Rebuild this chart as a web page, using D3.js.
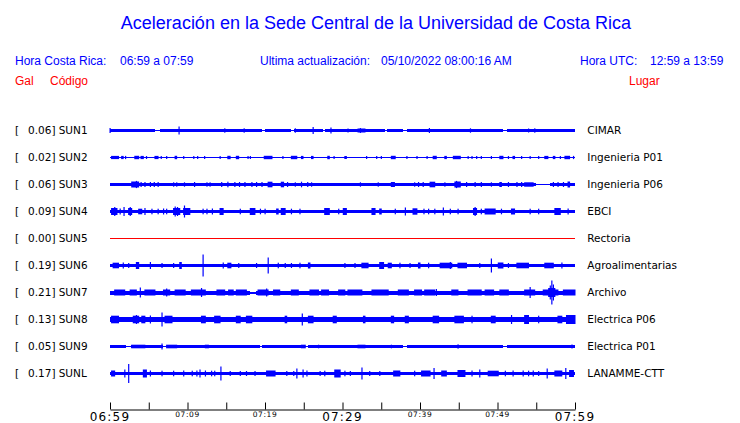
<!DOCTYPE html>
<html><head><meta charset="utf-8">
<script src="https://cdn.jsdelivr.net/npm/d3@7"></script>
<style>
html,body{margin:0;padding:0;background:#fff;}
svg{display:block;}
</style></head>
<body>
<svg id="c" width="740" height="423"></svg>
<script>
// ---------- data ----------
const title = "Aceleración en la Sede Central de la Universidad de Costa Rica";
const codes  = ["SUN1","SUN2","SUN3","SUN4","SUN5","SUN6","SUN7","SUN8","SUN9","SUNL"];
const places = ["CIMAR","Ingenieria P01","Ingenieria P06","EBCI","Rectoria","Agroalimentarias","Archivo","Electrica P06","Electrica P01","LANAMME-CTT"];
const peaks  = ["0.06","0.02","0.06","0.09","0.00","0.19","0.21","0.13","0.05","0.17"];
// background noise level of each trace (relative units)
const baseLevel = [1.6, 0.5, 1.6, 1.7, 0, 1.7, 2.0, 2.8, 1.3, 1.7];
// quieter stretches [startMin, endMin, level]
const quiet = [
  [[5.8,6.5,0.8],[19.6,20.0,0.8],[23.4,23.8,0.8],[27.5,27.8,0.8],[35.5,35.8,0.8],[37.8,38.3,0.9],[50.7,51.2,0.9]],
  [],
  [[55.0,56.8,0.6]],
  [],
  [],
  [],
  [[18.1,18.9,1.0]],
  [],
  [[2.0,2.7,0.8],[6.9,7.3,0.8],[19.4,19.6,0.8],[25.2,25.6,0.8],[37.8,38.3,0.8],[50.7,51.2,0.8]],
  []
];
// bursts / spikes [startMin, endMin, level]
const SUN1 = [[0,0,2.5],[8.9,8.9,4],[14.8,14.8,2.2],[17.3,17.3,2.2],[23.9,23.9,2.2],[26.2,26.2,3.5],[28.5,28.5,3],[30.7,30.7,2],[32.0,32.9,2],[32.3,32.3,2.4],[41.2,41.2,2.5],[46.5,46.5,2.2],[54.0,54.0,2],[54.8,54.8,2.2]];
const SUN2 = [[0.2,1.1,1.6],[1.5,1.7,1.6],[2.0,2.0,1.6],[3.2,3.7,1.7],[4.0,4.3,1.6],[4.7,4.7,1.5],[5.8,6.2,1.6],[6.6,6.6,1.5],[7.3,7.3,1.5],[8.4,8.6,1.7],[9.5,9.5,1.5],[10.8,10.8,1.5],[11.3,11.3,1.5],[12.2,12.2,1.5],[14.2,14.2,1.5],[15.2,15.5,1.7],[16.3,16.6,1.7],[17.8,17.8,1.5],[18.1,18.1,1.5],[19.9,20.9,1.7],[22.3,22.3,1.5],[23.4,24.1,1.7],[24.7,24.9,1.6],[26.0,26.2,1.6],[28.1,28.3,1.7],[28.9,28.9,1.5],[30.3,30.5,1.5],[33.1,33.1,1.5],[34.4,34.4,1.5],[35.0,35.0,1.5],[36.3,36.8,1.7],[38.3,38.3,1.5],[39.6,39.6,1.5],[40.9,40.9,1.5],[41.7,42.1,1.7],[43.2,43.4,1.6],[44.3,45.2,1.7],[46.2,46.2,1.5],[46.7,46.7,1.5],[47.3,47.3,1.5],[47.9,47.9,1.5],[49.2,49.2,1.5],[50.3,50.7,1.7],[51.4,51.4,1.5],[52.0,52.2,1.6],[53.1,53.1,1.5],[54.2,54.2,1.5],[55.3,55.3,1.5],[56.1,56.5,1.6],[57.2,57.4,1.6],[58.1,58.1,1.5],[58.7,59.3,1.7],[59.8,59.8,1.6]];
const SUN3 = [[2.8,3.7,3],[3.4,3.4,3.6],[4.0,4.0,2.5],[4.5,4.5,2.5],[5.2,5.2,2.5],[5.7,5.7,2.5],[6.2,6.2,2.5],[8.2,8.2,2.2],[8.6,8.6,2.2],[9.6,9.6,2.2],[10.9,10.9,2.5],[12.5,12.5,2.2],[12.9,12.9,2.2],[14.4,14.4,2.5],[15.2,15.2,2.8],[16.1,16.1,2.5],[16.7,16.7,2.5],[17.4,17.4,2.5],[18.3,18.3,2.5],[18.9,18.9,2.5],[19.6,19.6,2.5],[20.4,20.9,2.8],[22.1,22.4,2.8],[22.9,22.9,2.5],[23.9,23.9,2.2],[24.7,24.7,2.8],[25.5,25.5,2.5],[26.0,26.0,2.2],[32.3,32.3,2.2],[34.6,34.6,2.2],[36.3,36.7,2.5],[39.3,39.3,2.2],[39.8,39.8,2.5],[40.4,40.4,2.5],[41.3,41.9,2.8],[43.2,43.2,2.2],[44.5,45.2,3],[44.7,44.7,3.6],[46.0,46.0,2.5],[47.1,47.1,2.5],[47.9,47.9,2.5],[49.2,49.2,2.2],[50.3,50.5,2.5],[51.4,51.4,2.5],[52.5,52.5,2.5],[53.1,53.1,2.5],[53.5,54.6,2.2],[57.2,57.2,2.5],[57.8,57.8,2.5],[58.5,58.5,2.5],[59.1,59.3,3]];
const SUN4 = [[0.2,0.9,3.5],[0.6,0.6,4.5],[1.3,1.3,3],[1.8,1.8,4.5],[2.4,2.8,3.5],[2.6,2.6,4.5],[3.7,4.1,2.8],[4.5,4.5,3.5],[5.4,5.4,2.8],[6.2,6.2,2.8],[6.9,6.9,3],[7.3,7.3,2.8],[8.2,9.0,3.5],[8.4,8.4,5],[8.7,8.7,4.5],[9.5,10.3,3.5],[9.6,9.6,6],[12.0,12.0,2.8],[12.5,12.5,2.8],[13.2,13.2,3],[14.2,14.6,3.5],[16.8,16.8,2.8],[18.1,18.7,3.5],[19.4,19.4,2.8],[20.0,20.0,2.8],[21.5,21.7,3],[22.1,22.6,3.5],[23.4,23.4,2.8],[24.5,24.5,2.8],[27.7,28.3,3.5],[29.5,29.5,2.8],[30.1,30.5,3.5],[33.8,34.2,3.5],[34.8,35.0,3],[36.8,36.8,2.8],[38.1,38.1,4],[39.1,39.6,3.2],[40.5,40.5,2.8],[41.1,41.1,2.8],[41.9,41.9,2.8],[43.0,43.0,4],[43.9,43.9,2.8],[44.9,44.9,2.8],[46.9,47.3,3.5],[47.1,47.1,4.5],[47.9,47.9,2.8],[48.4,49.7,3],[50.5,50.5,2.8],[51.8,52.2,3],[54.2,54.2,2.8],[55.3,55.3,2.8],[57.4,58.1,3.5],[59.1,59.1,3]];
const SUN5 = [];
const SUN6 = [[0.4,1.1,2.8],[1.7,1.7,3],[2.4,2.4,2.5],[3.4,3.7,3.5],[5.2,5.2,3.5],[6.7,6.7,2.5],[8.2,8.2,2.5],[9.0,9.2,3.5],[12.0,12.0,11],[14.6,14.6,3],[15.2,15.6,2.8],[16.6,16.6,2.5],[18.9,18.9,2.5],[20.4,20.4,8],[21.7,21.7,2.8],[22.6,22.6,2.5],[23.4,23.4,2.5],[24.5,24.5,2.8],[25.6,25.8,3],[30.3,30.3,2.5],[31.6,31.6,2.5],[32.5,33.3,2.8],[34.8,35.3,3.5],[35.9,36.3,2.8],[37.4,37.4,2.8],[38.7,38.7,2.5],[39.8,40.0,3],[41.1,41.1,2.8],[42.6,44.1,2.8],[43.9,43.9,3.5],[44.9,46.0,2.8],[47.7,47.7,2.5],[49.2,49.2,7],[50.1,50.7,3],[51.4,51.4,2.5],[52.5,54.0,2.8],[56.1,57.2,2.8],[58.3,58.3,3]];
const SUN7 = [[0.6,1.9,3],[2.6,3.4,3],[3.9,3.9,5],[4.5,5.8,3],[6.9,7.7,3],[7.3,7.3,4],[8.4,9.7,3],[10.5,12.3,3],[11.8,11.8,4.5],[13.8,14.8,3],[15.3,15.9,3],[16.3,17.6,3],[19.1,20.4,3],[20.2,20.2,4],[21.1,21.9,3],[23.4,24.3,3],[25.8,26.9,3],[27.3,28.2,3],[29.5,30.3,3],[30.7,32.5,3],[33.8,35.9,3],[37.2,38.5,3],[39.3,40.2,3],[40.6,41.9,3],[42.1,42.1,3.5],[44.1,44.9,3],[46.2,47.9,3],[48.4,49.5,3],[50.3,51.4,3],[53.5,54.8,3],[54.2,54.2,5.5],[55.9,57.8,3],[56.6,57.4,4.5],[56.8,56.8,7],[57.0,57.0,12],[57.2,57.2,8],[58.5,60,3]];
const SUN8 = [[0.2,1.1,3.8],[3.0,3.7,3.8],[3.4,3.4,4.5],[4.1,4.5,3.8],[5.2,5.2,4],[6.7,6.7,7],[7.1,8.0,3.8],[11.8,12.3,3.8],[13.5,14.2,3.8],[16.3,16.8,3.8],[17.6,18.3,3.8],[22.6,22.8,3.8],[24.8,24.8,6],[25.6,26.2,3.8],[28.8,29.2,3.8],[32.7,32.9,3.8],[36.3,36.6,3.8],[38.1,38.5,3.8],[41.7,42.4,3.8],[44.5,45.6,3.8],[46.7,46.7,3.8],[49.2,49.7,3.8],[51.8,51.8,4.5],[53.5,54.0,4.5],[55.3,55.3,3.8],[57.8,58.3,3.8],[58.9,60,4.5]];
const SUN9 = [[2.8,4.5,1.8],[6.7,6.7,3],[7.3,8.6,1.8],[12.3,12.7,1.8],[24.7,25.2,1.8],[26.9,26.9,1.8],[32.0,32.9,1.8],[36.3,36.3,1.8],[44.9,44.9,2.2],[59.6,59.6,2]];
const SUNL = [[0.2,0.6,3],[1.9,1.9,4],[2.4,2.4,9.5],[4.3,4.7,4],[5.2,5.2,3],[6.7,6.7,2.8],[8.2,8.2,2.8],[9.5,9.5,3],[10.6,10.6,2.8],[11.2,11.2,3],[11.6,11.6,4],[12.3,12.3,3],[13.1,13.1,2.8],[13.5,13.5,2.8],[14.3,14.3,7],[15.5,15.5,2.5],[16.8,16.8,2.5],[17.6,17.6,2.5],[18.7,18.7,2.5],[20.2,21.3,3],[22.8,22.8,2.5],[23.7,23.7,2.5],[24.1,24.1,5],[24.9,24.9,4],[25.4,25.4,3],[27.1,27.1,2.5],[27.7,27.7,2.8],[29.0,29.7,4],[30.3,30.3,2.8],[31.0,31.0,2.5],[32.5,32.5,6],[33.5,33.5,2.5],[34.8,34.8,2.5],[36.6,37.4,3],[39.3,39.3,2.8],[40.2,41.3,3],[41.8,41.8,5.5],[42.8,43.4,3],[44.9,45.8,3.5],[46.7,46.7,3],[47.7,47.7,4],[48.8,50.1,2.8],[51.0,51.0,2.8],[52.0,52.0,3],[53.3,53.3,3],[54.0,54.0,2.8],[54.6,54.6,3],[55.3,55.3,2.5],[56.4,56.4,5],[57.4,58.3,3],[58.8,58.8,5.5],[59.3,59.8,3.5]];
const bursts = [SUN1,SUN2,SUN3,SUN4,SUN5,SUN6,SUN7,SUN8,SUN9,SUNL];
// time axis (minutes after 06:59)
const tickMinutes = [0,5,10,15,20,25,30,35,40,45,50,55,60];
const bigLabels   = [[0,"06:59"],[30,"07:29"],[60,"07:59"]];
const smallLabels = [[10,"07:09"],[20,"07:19"],[40,"07:39"],[50,"07:49"]];

// ---------- drawing ----------
const svg = d3.select("#c");
const BLUE = "#0000ff", RED = "#ff0000";
const sans = "'Liberation Sans', Arial, Helvetica, sans-serif";
const dj = "'DejaVu Sans', sans-serif";

const x = d3.scaleLinear().domain([0,60]).range([110,575]);
const y = d3.scalePoint().domain(codes).range([130.5,373.5]);
const amp = d3.scaleLinear().domain([0,12]).range([0,12]);

svg.append("text").attr("x",376).attr("y",29).attr("text-anchor","middle")
  .attr("font-family",sans).attr("font-size",18).attr("fill",BLUE).text(title);

const info = svg.append("g").attr("font-family",sans).attr("font-size",12).attr("fill",BLUE);
info.append("text").attr("x",15).attr("y",65).text("Hora Costa Rica:");
info.append("text").attr("x",120).attr("y",65).text("06:59 a 07:59");
info.append("text").attr("x",260).attr("y",65).text("Ultima actualización:");
info.append("text").attr("x",381).attr("y",65).text("05/10/2022 08:00:16 AM");
info.append("text").attr("x",580).attr("y",65).text("Hora UTC:");
info.append("text").attr("x",650).attr("y",65).text("12:59 a 13:59");

const hdr = svg.append("g").attr("font-family",sans).attr("font-size",12).attr("fill",RED);
hdr.append("text").attr("x",15).attr("y",85).text("Gal");
hdr.append("text").attr("x",50).attr("y",85).text("Código");
hdr.append("text").attr("x",629).attr("y",85).text("Lugar");

const rows = svg.selectAll("g.row").data(codes).join("g").attr("class","row");

rows.each(function(code,i){
  const g = d3.select(this);
  const cy = y(code);
  g.append("text").attr("x",15).attr("y",cy+3.8).attr("font-family",dj).attr("font-size",10.5).attr("fill","#000").text("[");
  g.append("text").attr("x",55.5).attr("y",cy+3.8).attr("text-anchor","end").attr("font-family",dj).attr("font-size",10.5).attr("fill","#000").text(peaks[i]+"]");
  g.append("text").attr("x",58.7).attr("y",cy+3.8).attr("font-family",dj).attr("font-size",10.5).attr("fill","#000").text(code);
  g.append("text").attr("x",587.3).attr("y",cy+3.8).attr("font-family",dj).attr("font-size",10.5).attr("fill","#000").text(places[i]);

  if (baseLevel[i] === 0) {
    g.append("line").attr("x1",x(0)).attr("x2",x(60)).attr("y1",Math.floor(cy)+0.5).attr("y2",Math.floor(cy)+0.5)
      .attr("stroke",RED).attr("stroke-width",1);
    return;
  }
  // envelope of background noise
  const pts = [[0, baseLevel[i]]];
  quiet[i].forEach(q => { pts.push([q[0], q[2]]); pts.push([q[1], baseLevel[i]]); });
  pts.push([60, baseLevel[i]]);
  const area = d3.area().curve(d3.curveStepAfter)
    .x(d => x(d[0])).y0(d => cy - amp(d[1])).y1(d => cy + amp(d[1]));
  g.append("path").attr("d", area(pts)).attr("fill",BLUE).attr("shape-rendering","crispEdges");
  if (baseLevel[i] < 1) {
    g.append("line").attr("x1",x(0)).attr("x2",x(60)).attr("y1",Math.floor(cy)+0.5).attr("y2",Math.floor(cy)+0.5)
      .attr("stroke",BLUE).attr("stroke-width",1);
  }
  g.selectAll("rect.b").data(bursts[i]).join("rect").attr("class","b")
    .attr("x", d => x(d[0]) - 0.5)
    .attr("width", d => Math.max(1.2, x(d[1]) - x(d[0]) + 1))
    .attr("y", d => cy - amp(d[2]))
    .attr("height", d => 2*amp(d[2]))
    .attr("fill", BLUE);
});

// time axis
const ax = svg.append("g").attr("transform","translate(0,409.5)")
  .call(d3.axisTop(x).tickValues(tickMinutes).tickSize(7).tickSizeOuter(0).tickFormat(""));
ax.select(".domain").attr("stroke","#000");
ax.selectAll(".tick line").attr("stroke","#000");

svg.selectAll("text.big").data(bigLabels).join("text").attr("class","big")
  .attr("x", d => x(d[0])).attr("y",420.5).attr("text-anchor","middle")
  .attr("font-family",dj).attr("font-size",12).attr("letter-spacing",1.2).attr("fill","#000").text(d => d[1]);
svg.selectAll("text.small").data(smallLabels).join("text").attr("class","small")
  .attr("x", d => x(d[0])).attr("y",417).attr("text-anchor","middle")
  .attr("font-family",dj).attr("font-size",7.5).attr("letter-spacing",0.6).attr("fill","#000").text(d => d[1]);
</script>
</body></html>
